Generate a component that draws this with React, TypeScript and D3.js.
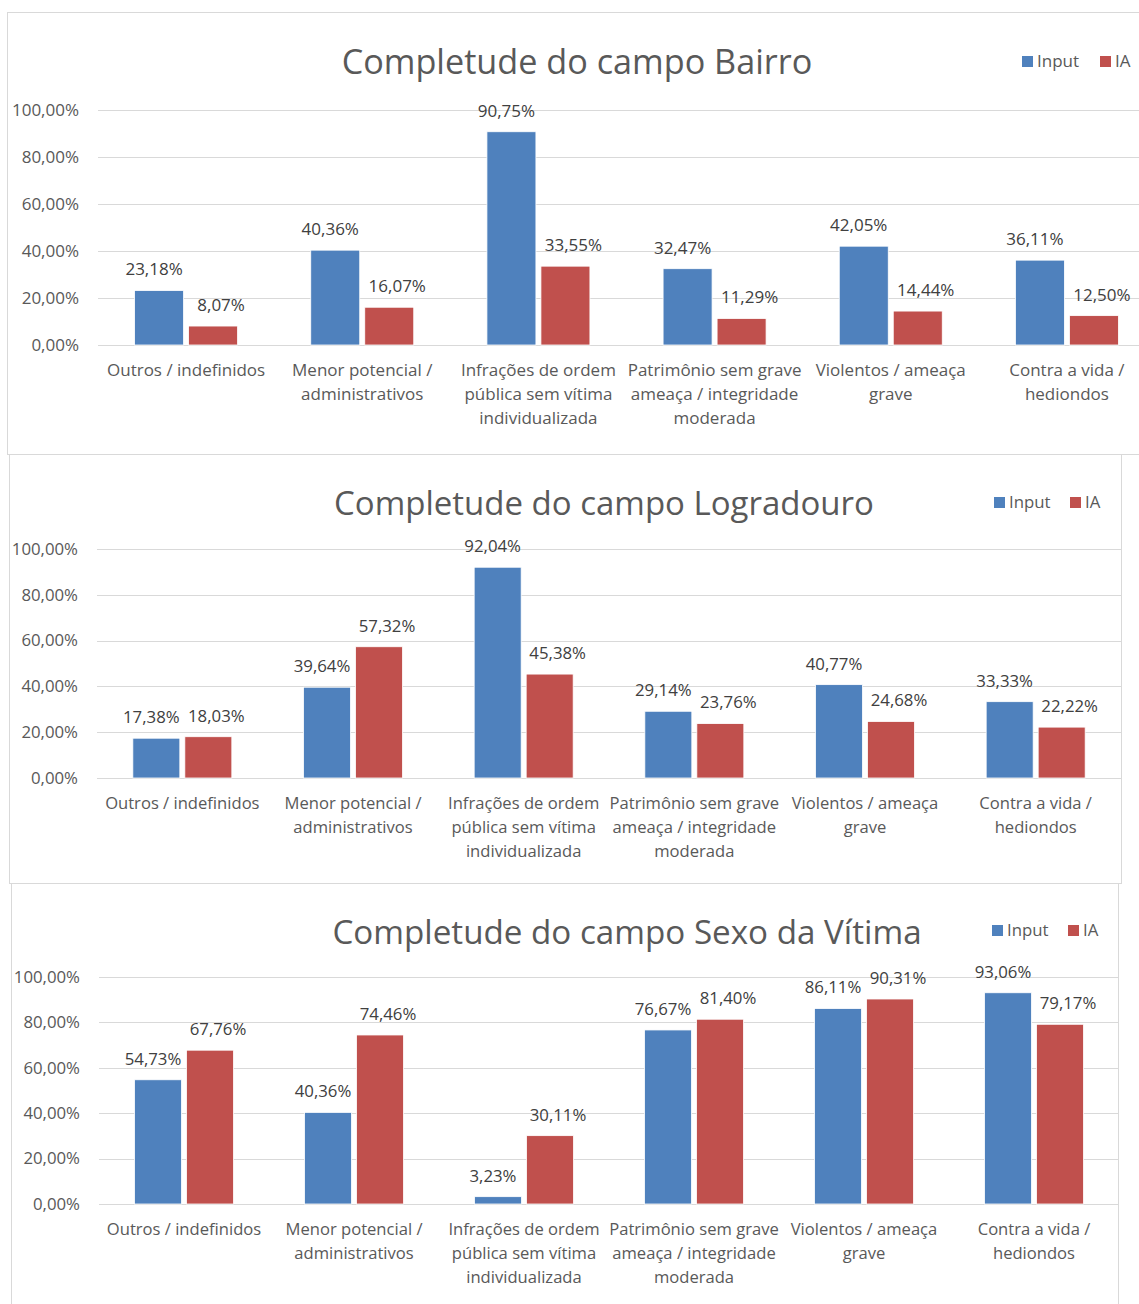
import React from "react";
import * as d3 from "d3";

// categorias (rótulos em linhas, como no gráfico original)
const categories = [
  ["Outros / indefinidos"],
  ["Menor potencial /", "administrativos"],
  ["Infrações de ordem", "pública sem vítima", "individualizada"],
  ["Patrimônio sem grave", "ameaça / integridade", "moderada"],
  ["Violentos / ameaça", "grave"],
  ["Contra a vida /", "hediondos"],
];

const seriesNames = ["Input", "IA"];
const yTicks = [0, 20, 40, 60, 80, 100];

const titles = [
  "Completude do campo Bairro",
  "Completude do campo Logradouro",
  "Completude do campo Sexo da Vítima",
];

const bairroInput = [23.18, 40.36, 90.75, 32.47, 42.05, 36.11];
const bairroIA = [8.07, 16.07, 33.55, 11.29, 14.44, 12.5];

const logradouroInput = [17.38, 39.64, 92.04, 29.14, 40.77, 33.33];
const logradouroIA = [18.03, 57.32, 45.38, 23.76, 24.68, 22.22];

const sexoInput = [54.73, 40.36, 3.23, 76.67, 86.11, 93.06];
const sexoIA = [67.76, 74.46, 30.11, 81.4, 90.31, 79.17];

const panelData = [
  [bairroInput, bairroIA],
  [logradouroInput, logradouroIA],
  [sexoInput, sexoIA],
];

// posições de cada painel (recortes colados um abaixo do outro)
const layouts = [
  { frame: [7, 12, 1160, 442], left: 98, right: 1155, top: 110, bottom: 345, barW: 49, titleX: 577, titleY: 62, titleFs: 34.2, catFs: 17, fs: 17,
    legend: { x: 1022, y: 61, redX: 1100 } },
  { frame: [9, 454, 1112, 429], left: 97, right: 1121, top: 549, bottom: 778, barW: 47, titleX: 604, titleY: 503, titleFs: 33, catFs: 16.6, fs: 16.8,
    legend: { x: 994, y: 502, redX: 1070 } },
  { frame: [11, 883, 1107, 440], left: 99, right: 1119, top: 977, bottom: 1204, barW: 47, titleX: 627, titleY: 932, titleFs: 33.2, catFs: 16.6, fs: 16.8,
    legend: { x: 992, y: 930, redX: 1068 } },
];

const colors = ["#4F81BD", "#C0504D"];
const font = "'Open Sans', 'Noto Sans', sans-serif";
const fmt = (v: number) => v.toFixed(2).replace(".", ",") + "%";

function Panel({ idx }: { idx: number }) {
  const L = layouts[idx];
  const data = panelData[idx];
  const x = d3.scaleBand<number>().domain(d3.range(categories.length)).range([L.left, L.right]).padding(0);
  const y = d3.scaleLinear().domain([0, 100]).range([L.bottom, L.top]);
  const gap = 5;
  const labelShift = [-5, 8];
  const [fx, fy, fw, fh] = L.frame;

  return (
    <g>
      <rect x={fx + 0.5} y={fy + 0.5} width={fw} height={fh} fill="#fff" stroke="#D9D9D9" />
      <text x={L.titleX} y={L.titleY} dy="0.35em" textAnchor="middle" fontSize={L.titleFs} fill="#595959" fontFamily={font}>
        {titles[idx]}
      </text>
      {seriesNames.map((s, i) => (
        <g key={s}>
          <rect x={i === 0 ? L.legend.x : L.legend.redX} y={L.legend.y - 5} width={11} height={11} fill={colors[i]} />
          <text x={(i === 0 ? L.legend.x : L.legend.redX) + 15} y={L.legend.y} dy="0.35em" fontSize={L.fs} fill="#595959" fontFamily={font}>
            {s}
          </text>
        </g>
      ))}
      {yTicks.map((t) => (
        <g key={t}>
          <line x1={L.left} x2={L.right} y1={Math.round(y(t)) + 0.5} y2={Math.round(y(t)) + 0.5} stroke="#D9D9D9" strokeWidth={1.2} />
          <text x={L.left - 19} y={y(t)} dy="0.35em" textAnchor="end" fontSize={L.fs} fill="#595959" fontFamily={font}>
            {t.toFixed(2).replace(".", ",") + "%"}
          </text>
        </g>
      ))}
      {categories.map((lines, c) => {
        const cx = (x(c) as number) + x.bandwidth() / 2;
        return (
          <g key={c}>
            {data.map((vals, s) => {
              const bx = s === 0 ? cx - gap / 2 - L.barW : cx + gap / 2;
              const by = y(vals[c]);
              return (
                <g key={s}>
                  <rect x={bx} y={by} width={L.barW} height={L.bottom - by} fill={colors[s]} stroke="#fff" strokeWidth={0.8} />
                  <text x={bx + L.barW / 2 + labelShift[s]} y={by - 21} dy="0.35em" textAnchor="middle" fontSize={L.fs} fill="#404040" fontFamily={font}>
                    {fmt(vals[c])}
                  </text>
                </g>
              );
            })}
            {lines.map((ln, k) => (
              <text key={k} x={cx} y={L.bottom + 25 + k * 24} dy="0.35em" textAnchor="middle" fontSize={L.catFs} fill="#595959" fontFamily={font}>
                {ln}
              </text>
            ))}
          </g>
        );
      })}
    </g>
  );
}

export default function App() {
  return (
    <svg width={1139} height={1304} style={{ position: "absolute", left: 0, top: 0, background: "#fff" }}>
      <rect width={1139} height={1304} fill="#fff" />
      {layouts.map((_, i) => (
        <Panel key={i} idx={i} />
      ))}
    </svg>
  );
}
